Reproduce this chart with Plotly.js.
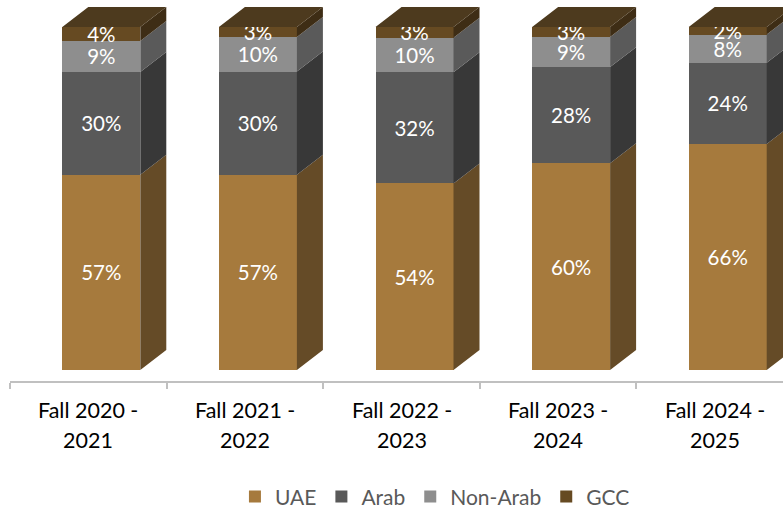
<!DOCTYPE html>
<html>
<head>
<meta charset="utf-8">
<script src="https://cdn.plot.ly/plotly-3.0.1.min.js"></script>
<style>
  html, body { margin: 0; padding: 0; background: #fff; }
  #chart { width: 783px; height: 510px; }
</style>
</head>
<body>
<div id="chart"></div>
<script>
// ---- data ----
const categoriesLine1 = ["Fall 2020 -", "Fall 2021 -", "Fall 2022 -", "Fall 2023 -", "Fall 2024 -"];
const categoriesLine2 = ["2021", "2022", "2023", "2024", "2025"];
const seriesNames = ["UAE", "Arab", "Non-Arab", "GCC"];
const uae     = [56.9, 56.9, 54.4, 60.3, 65.9];
const arab    = [30.0, 30.1, 32.4, 28.0, 23.7];
const nonArab = [9.0, 10.1, 10.1, 8.8, 8.2];
const gcc     = [4.1, 2.9, 3.1, 2.9, 2.2];

// ---- style ----
const frontColors = ["#A67A3D", "#595959", "#8E8E8E", "#664A22"];
const sideColors  = ["#654B27", "#383838", "#5A5A5A", "#3E2D15"];
const topColor = "#4D3A1E";
const FONT = "Lato, 'Open Sans', sans-serif";

// geometry in axis units (category spacing = 1)
const barOffset = -0.166;   // left edge of front face relative to category centre
const barWidth = 0.498;
const depthX = 0.166;       // 3D depth horizontal
const depthY = 5.83;        // 3D depth vertical (in % units)

const series = [uae, arab, nonArab, gcc];
const xs = categoriesLine1.map((_, i) => i);

const traces = [];
series.forEach((vals, s) => {
  traces.push({
    type: "bar",
    name: seriesNames[s],
    x: xs,
    y: vals,
    offset: barOffset,
    width: barWidth,
    marker: { color: frontColors[s], line: { width: 0 } },
    text: vals.map(v => Math.round(v) + "%"),
    textposition: "inside",
    insidetextanchor: "middle",
    textangle: 0,
    textfont: { family: FONT, size: 20.5, color: "#ffffff" },
    hoverinfo: "skip"
  });
});

// side faces and top faces (computed from the stacked values)
const cum = xs.map(() => 0);
series.forEach((vals, s) => {
  const px = [], py = [];
  vals.forEach((v, i) => {
    const xr = i + barOffset + barWidth;
    const y0 = cum[i], y1 = cum[i] + v;
    px.push(xr, xr, xr + depthX, xr + depthX, xr, null);
    py.push(y0, y1, y1 + depthY, y0 + depthY, y0, null);
    cum[i] = y1;
  });
  traces.push({
    type: "scatter", mode: "lines", x: px, y: py,
    fill: "toself", fillcolor: sideColors[s],
    line: { width: 0, color: sideColors[s] },
    showlegend: false, hoverinfo: "skip"
  });
});
{
  const px = [], py = [];
  cum.forEach((top, i) => {
    const xl = i + barOffset, xr = xl + barWidth;
    px.push(xl, xr, xr + depthX, xl + depthX, xl, null);
    py.push(top, top, top + depthY, top + depthY, top, null);
  });
  traces.push({
    type: "scatter", mode: "lines", x: px, y: py,
    fill: "toself", fillcolor: topColor,
    line: { width: 0, color: topColor },
    showlegend: false, hoverinfo: "skip"
  });
}

// category labels
const annotations = [];
xs.forEach(i => {
  annotations.push({ x: i, xref: "x", y: 0, yref: "paper", yanchor: "middle", yshift: -29,
    text: categoriesLine1[i], showarrow: false, font: { family: FONT, size: 21.5, color: "#000" } });
  annotations.push({ x: i, xref: "x", y: 0, yref: "paper", yanchor: "middle", yshift: -59,
    text: categoriesLine2[i], showarrow: false, font: { family: FONT, size: 21.5, color: "#000" } });
});

const layout = {
  width: 783, height: 510,
  margin: { l: 10, r: 0, t: 0, b: 129, autoexpand: false },
  paper_bgcolor: "#fff", plot_bgcolor: "#fff",
  barmode: "stack",
  showlegend: true,
  legend: {
    orientation: "h", traceorder: "normal",
    x: 0.291, xanchor: "left", y: -0.304, yanchor: "middle",
    font: { family: FONT, size: 21, color: "#595959" }
  },
  uniformtext: { mode: "show", minsize: 20.5 },
  xaxis: {
    type: "linear", range: [-0.5, 4.436], fixedrange: true,
    showgrid: false, zeroline: false,
    showline: true, linecolor: "#C0C0C0", linewidth: 2,
    tickmode: "array", tickvals: [-0.5, 0.5, 1.5, 2.5, 3.5, 4.5],
    ticks: "outside", ticklen: 6, tickwidth: 2, tickcolor: "#C0C0C0",
    showticklabels: false
  },
  yaxis: {
    range: [-3.21, 107.87], fixedrange: true,
    visible: false, showgrid: false, zeroline: false
  },
  annotations: annotations
};

Plotly.newPlot("chart", traces, layout, { displayModeBar: false, staticPlot: true });
</script>
</body>
</html>
